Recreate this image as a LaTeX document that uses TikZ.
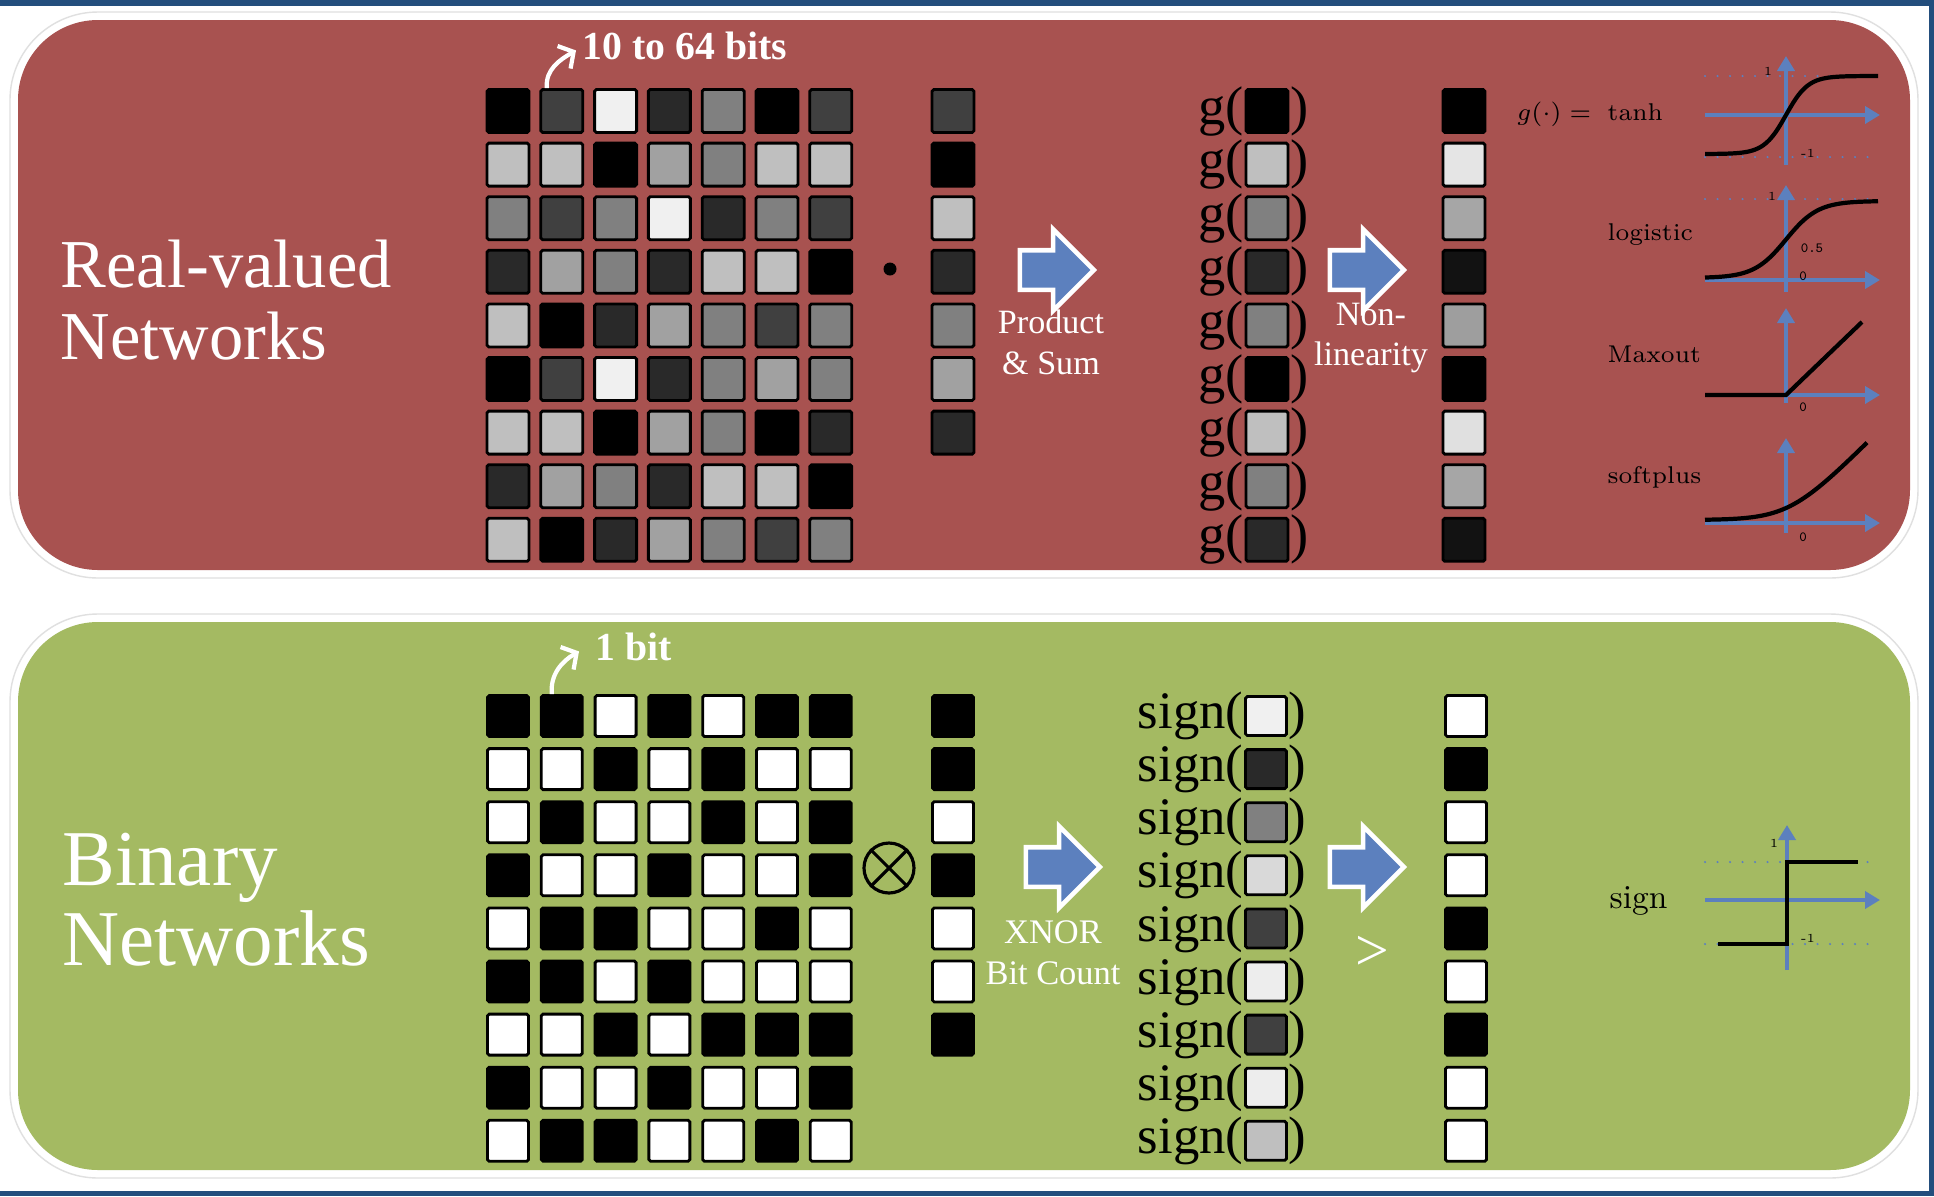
\documentclass[tikz,border=0pt]{standalone}
\usepackage{fontspec}
\usepackage{tikz}
\usetikzlibrary{shapes,arrows,arrows.meta,positioning}
\newfontfamily\timesfont{Liberation Serif}

\definecolor{realred}{RGB}{168,82,80}
\definecolor{binarygreen}{RGB}{164,186,98}
\definecolor{axisblue}{RGB}{92,128,190}
\definecolor{framenavy}{RGB}{35,78,125}

\begin{document}
\begin{tikzpicture}[
    x=0.1mm, y=-0.1mm,
    cell/.style={rectangle, draw=black, line width=0.8pt, rounded corners=0.5pt, minimum width=4.2mm, minimum height=4.3mm, inner sep=0pt},
    bcell/.style={cell, minimum width=4.1mm, minimum height=4.1mm},
    blockarrow/.style={single arrow, fill=axisblue, draw=white, line width=1.3pt, minimum height=7.4mm, inner ysep=1.75mm, inner xsep=0pt, single arrow head extend=2.1mm},
    heading/.style={text=white, font=\timesfont\fontsize{19.5}{20.5}\selectfont, align=left, anchor=west, inner sep=0pt},
    bitlabel/.style={text=white, font=\timesfont\bfseries\fontsize{11.3}{12}\selectfont, anchor=base west, inner sep=0pt},
    bitarrow/.style={white, line width=1.2pt, -{Straight Barb[length=1.1mm, width=2.6mm]}},
    oplabel/.style={text=white, font=\timesfont\fontsize{9.7}{11.6}\selectfont, align=center},
    fnargs/.style={font=\timesfont\fontsize{15.5}{15.5}\selectfont, inner sep=0pt},
    funclabel/.style={font=\fontsize{6.9}{8}\selectfont, anchor=base west, inner sep=0pt},
    axis/.style={axisblue, line width=1.4pt, -{Triangle[length=1.5mm, width=1.7mm]}},
    limit/.style={axisblue, line width=0.7pt, dash pattern=on 0pt off 1.25mm, line cap=round},
    curve/.style={black, line width=1.2pt},
    tick/.style={font=\fontsize{3.5}{4}\selectfont, inner sep=0pt}
]
    \useasboundingbox (0,0) rectangle (1934,1196);
    \fill[white] (0,0) rectangle (1934,1196);
    \fill[framenavy] (0,0) rectangle (1934,6);
    \fill[framenavy] (1929,0) rectangle (1934,1196);
    \fill[framenavy] (0,1191) rectangle (1934,1196);

    % panels
    \draw[black!12, fill=white, rounded corners=8.8mm] (10,12) rectangle (1918,578);
    \fill[realred, rounded corners=8mm] (18,20) rectangle (1910,570);
    \draw[black!12, fill=white, rounded corners=8.8mm] (10,614) rectangle (1918,1178);
    \fill[binarygreen, rounded corners=8mm] (18,622) rectangle (1910,1170);

    % real-valued network
    \node (realhead) [heading] at (60,300) {Real-valued\\Networks};

    \foreach \row [count=\r] in {
        {100,75,6,84,50,100,75},
        {25,25,100,37,50,25,25},
        {50,75,50,6,84,50,75},
        {84,37,50,84,25,25,100},
        {25,100,84,37,50,75,50},
        {100,75,6,84,50,37,50},
        {25,25,100,37,50,100,84},
        {84,37,50,84,25,25,100},
        {25,100,84,37,50,75,50}}
      \foreach \p [count=\c] in \row
        \node[cell, fill=black!\p] (rw\r-\c) at ({508+53.8*(\c-1)}, {111+53.6*(\r-1)}) {};

    \node (realbits) [bitlabel] at (582,59) {10 to 64 bits};
    \draw[bitarrow] ([xshift=-1.5mm]rw1-2.north) to[out=95, in=210] ([xshift=-0.6mm, yshift=-0.5mm]realbits.west);

    \node (realdot) [circle, fill=black, minimum size=1.3mm, inner sep=0pt] at (890,269) {};
    \foreach \p [count=\i] in {75,100,25,84,50,37,84}
        \node[cell, fill=black!\p] (rv\i) at (953, {111+53.6*(\i-1)}) {};

    \node (prodarrow) [blockarrow] at (1047,270) {};
    \node (prodlbl) [oplabel] at (1051,342) {Product\\\& Sum};

    \foreach \p [count=\i] in {100,25,50,84,50,100,25,50,84} {
        \node[cell, fill=black!\p] (g\i) at (1267, {111+53.6*(\i-1)}) {};
        \node[fnargs, anchor=east] (gl\i) at (g\i.west) {g(};
        \node[fnargs, anchor=west] (gr\i) at (g\i.east) {)};
    }

    \node (nonlinarrow) [blockarrow] at (1357,270) {};
    \node (nonlinlbl) [oplabel] at (1371,338) {Non-\\linearity};

    \foreach \p [count=\i] in {100,10,35,93,38,100,12,35,93}
        \node[cell, fill=black!\p] (ro\i) at (1464, {111+53.6*(\i-1)}) {};

    % activation functions
    \node (gdef) [funclabel, anchor=base east] at (1592,120) {$g(\cdot) =$};
    \node (tanhlbl) [funclabel] at (1607,120) {tanh};
    \node (logilbl) [funclabel] at (1607,240) {logistic};
    \node (maxlbl) [funclabel] at (1607,362) {Maxout};
    \node (softlbl) [funclabel] at (1607,483) {softplus};

    \draw[limit] (1705,76) -- (1878,76);
    \draw[limit] (1705,157) -- (1878,157);
    \draw[axis] (1705,115) -- (1880,115);
    \draw[axis] (1786,165) -- (1786,56);
    \draw[curve] plot[domain=1705:1878, samples=60] (\x, {115-39*tanh((\x-1786)/22)});
    \node (tanhone) [tick] at (1768,71) {1};
    \node (tanhmone) [tick] at (1808,153) {-1};

    \draw[limit] (1705,199) -- (1878,199);
    \draw[axis] (1705,280) -- (1880,280);
    \draw[axis] (1786,292) -- (1786,185);
    \draw[curve] plot[domain=1705:1878, samples=60] (\x, {278-77/(1+exp(-(\x-1786)/16))});
    \node (logione) [tick] at (1772,196) {1};
    \node (logihalf) [tick, font=\ttfamily\fontsize{4}{4}\selectfont] at (1812,248) {0.5};
    \node (logizero) [tick, font=\ttfamily\fontsize{4}{4}\selectfont] at (1803,276) {0};

    \draw[axis] (1705,395) -- (1880,395);
    \draw[axis] (1786,403) -- (1786,308);
    \draw[curve] (1705,395) -- (1786,395) -- (1862,322);
    \node (maxzero) [tick, font=\ttfamily\fontsize{4}{4}\selectfont] at (1803,407) {0};

    \draw[axis] (1705,523) -- (1880,523);
    \draw[axis] (1786,533) -- (1786,438);
    \draw[curve] plot[domain=1705:1867, samples=60] (\x, {520-20*ln(1+exp((\x-1790)/20))});
    \node (softzero) [tick, font=\ttfamily\fontsize{4}{4}\selectfont] at (1803,537) {0};

    % binary network
    \node (binhead) [heading, font=\timesfont\fontsize{22.5}{22.8}\selectfont] at (62,900) {Binary\\Networks};

    \foreach \row [count=\r] in {
        {100,100,0,100,0,100,100},
        {0,0,100,0,100,0,0},
        {0,100,0,0,100,0,100},
        {100,0,0,100,0,0,100},
        {0,100,100,0,0,100,0},
        {100,100,0,100,0,0,0},
        {0,0,100,0,100,100,100},
        {100,0,0,100,0,0,100},
        {0,100,100,0,0,100,0}}
      \foreach \p [count=\c] in \row
        \node[bcell, fill=black!\p] (bw\r-\c) at ({508+53.8*(\c-1)}, {716+53.1*(\r-1)}) {};

    \node (binbits) [bitlabel] at (595,660) {1 bit};
    \draw[bitarrow] ([xshift=-1.0mm]bw1-2.north) to[out=95, in=210] ([xshift=-1.6mm, yshift=-0.5mm]binbits.west);

    \node (xnorop) [circle, draw=black, line width=0.9pt, minimum size=5mm, inner sep=0pt] at (889,868) {};
    \draw[line width=0.9pt] (xnorop.north west) -- (xnorop.south east);
    \draw[line width=0.9pt] (xnorop.north east) -- (xnorop.south west);

    \foreach \p [count=\i] in {100,100,0,100,0,0,100}
        \node[bcell, fill=black!\p] (bv\i) at (953, {716+53.1*(\i-1)}) {};

    \node (xnorarrow) [blockarrow] at (1053,867) {};
    \node (xnorlbl) [oplabel, font=\timesfont\fontsize{9.8}{11.6}\selectfont] at (1053,953) {XNOR\\Bit Count};

    \foreach \p [count=\i] in {6,84,50,15,75,7,75,7,25} {
        \node[bcell, minimum height=3.9mm, fill=black!\p] (s\i) at (1266, {716+53.1*(\i-1)}) {};
        \node[fnargs, font=\timesfont\fontsize{15}{15}\selectfont, anchor=east] (sl\i) at (s\i.west) {sign(};
        \node[fnargs, font=\timesfont\fontsize{15}{15}\selectfont, anchor=west] (sr\i) at (s\i.east) {)};
    }

    \node (signarrow) [blockarrow] at (1357,867) {};
    \node (gtlbl) [text=white, font=\timesfont\fontsize{17}{17}\selectfont, inner sep=0pt] at (1372,953) {>};

    \foreach \p [count=\i] in {0,100,0,0,100,0,100,0,0}
        \node[bcell, fill=black!\p] (bo\i) at (1466, {716+53.1*(\i-1)}) {};

    % sign function
    \node (signlbl) [funclabel, font=\fontsize{9.5}{10}\selectfont] at (1609,908) {sign};
    \draw[limit] (1705,862) -- (1878,862);
    \draw[limit] (1705,944) -- (1878,944);
    \draw[axis] (1705,900) -- (1880,900);
    \draw[axis] (1787,970) -- (1787,825);
    \draw[curve] (1718,944) -- (1787,944) -- (1787,862) -- (1858,862);
    \node (signone) [tick] at (1774,843) {1};
    \node (signmone) [tick] at (1808,938) {-1};
\end{tikzpicture}
\end{document}
